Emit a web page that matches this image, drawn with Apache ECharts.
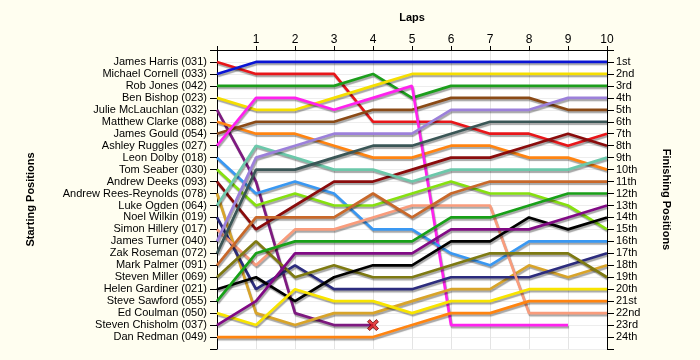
<!DOCTYPE html>
<html><head><meta charset="utf-8">
<script src="https://cdn.jsdelivr.net/npm/echarts@6/dist/echarts.min.js"></script>
<style>html,body{margin:0;padding:0;background:#FFFEF0}#c{width:700px;height:360px}</style>
</head><body><div id="c"></div>
<script>
const laps = [0,1,2,3,4,5,6,7,8,9,10];
const lapLabels = ['', '1','2','3','4','5','6','7','8','9','10'];
const drivers = ['James Harris (031)','Michael Cornell (033)','Rob Jones (042)','Ben Bishop (023)','Julie McLauchlan (032)','Matthew Clarke (088)','James Gould (054)','Ashley Ruggles (027)','Leon Dolby (018)','Tom Seaber (030)','Andrew Deeks (093)','Andrew Rees-Reynolds (078)','Luke Ogden (064)','Noel Wilkin (019)','Simon Hillery (017)','James Turner (040)','Zak Roseman (072)','Mark Palmer (091)','Steven Miller (069)','Helen Gardiner (021)','Steve Sawford (055)','Ed Coulman (050)','Steven Chisholm (037)','Dan Redman (049)'];
const finishLabels = ['1st','2nd','3rd','4th','5th','6th','7th','8th','9th','10th','11th','12th','13th','14th','15th','16th','17th','18th','19th','20th','21st','22nd','23rd','24th'];

// positions per lap (lap 0 .. 10); null = retired
const posJamesHarris     = [1,2,2,2,6,6,6,7,7,8,7];
const posMichaelCornell  = [2,1,1,1,1,1,1,1,1,1,1];
const posRobJones        = [3,3,3,3,2,4,3,3,3,3,3];
const posBenBishop       = [4,5,5,4,3,2,2,2,2,2,2];
const posJulieMcLauchlan = [5,11,22,23,23,null,null,null,null,null,null];
const posMatthewClarke   = [6,7,7,8,9,9,8,8,9,9,10];
const posJamesGould      = [7,6,6,6,5,5,4,4,4,5,5];
const posAshleyRuggles   = [8,4,4,5,4,3,23,23,23,23,null];
const posLeonDolby       = [9,12,11,12,15,15,17,18,16,16,16];
const posTomSeaber       = [10,13,12,13,13,12,11,12,12,13,15];
const posAndrewDeeks     = [11,15,13,11,11,10,9,9,8,7,8];
const posAndrewRR        = [12,22,23,22,22,21,20,20,18,19,18];
const posLukeOgden       = [13,8,9,10,10,11,10,10,10,10,9];
const posNoelWilkin      = [14,20,18,20,20,20,19,19,19,18,17];
const posSimonHillery    = [15,18,15,15,14,13,13,13,22,22,22];
const posJamesTurner     = [16,9,8,7,7,7,5,5,5,4,4];
const posZakRoseman      = [17,10,10,9,8,8,7,6,6,6,6];
const posMarkPalmer      = [18,14,14,14,12,14,12,11,11,11,11];
const posStevenMiller    = [19,16,19,18,19,19,18,17,17,17,19];
const posHelenGardiner   = [20,19,21,19,18,18,16,16,14,15,14];
const posSteveSawford    = [21,17,16,16,16,16,14,14,13,12,12];
const posEdCoulman       = [22,23,20,21,21,22,21,21,20,20,20];
const posStevenChisholm  = [23,21,17,17,17,17,15,15,15,14,13];
const posDanRedman       = [24,24,24,24,24,23,22,22,21,21,21];
const retiredWithMark    = [4]; // driver index (Julie) retired with cross marker

const allPos = [posJamesHarris,posMichaelCornell,posRobJones,posBenBishop,posJulieMcLauchlan,posMatthewClarke,posJamesGould,posAshleyRuggles,posLeonDolby,posTomSeaber,posAndrewDeeks,posAndrewRR,posLukeOgden,posNoelWilkin,posSimonHillery,posJamesTurner,posZakRoseman,posMarkPalmer,posStevenMiller,posHelenGardiner,posSteveSawford,posEdCoulman,posStevenChisholm,posDanRedman];
const colors = ['#E8161A','#0A14D4','#1C9E1C','#F5DE00','#7E1A80','#FF8412','#8A4A16','#FF22EE','#3A98F2','#86E010','#8A0C0C','#D8A42A','#6CC8AA','#2C2C7E','#F99C7C','#9C80DA','#3A5656','#C8682A','#7E7A12','#000000','#18A018','#F8E400','#800A84','#FF8410'];

const font = 'Liberation Sans, Arial, sans-serif';
const series = allPos.map((p, i) => ({
  type: 'line',
  name: drivers[i],
  data: laps.map((l, k) => p[k] == null ? null : [l, p[k]]).filter(d => d),
  symbol: 'none',
  animation: false,
  z: 3,
  lineStyle: { color: colors[i], width: 2.7, shadowColor: 'rgba(0,0,0,0.35)', shadowBlur: 1, shadowOffsetX: 1, shadowOffsetY: 2 },
  emphasis: { disabled: true }
}));
retiredWithMark.forEach(i => {
  const p = allPos[i];
  let last = 0; p.forEach((v, k) => { if (v != null) last = k; });
  series.push({
    type: 'scatter', animation: false, z: 5,
    data: [[laps[last], p[last]]],
    symbol: 'path://M2,0 L5,3 L8,0 L10,2 L7,5 L10,8 L8,10 L5,7 L2,10 L0,8 L3,5 L0,2 Z',
    symbolSize: 11,
    itemStyle: { color: '#E01818', borderColor: '#6A0000', borderWidth: 1 }
  });
});

const chart = echarts.init(document.getElementById('c'), null, { renderer: 'canvas' });
chart.setOption({
  backgroundColor: '#FFFEF0',
  textStyle: { fontFamily: font },
  grid: { left: 217, right: 93, top: 50, bottom: 11, show: true, backgroundColor: '#FFFFFF', borderWidth: 0 },
  xAxis: {
    type: 'value', position: 'top', min: 0, max: 10, interval: 1,
    name: 'Laps', nameLocation: 'middle', nameGap: 27,
    nameTextStyle: { fontWeight: 'bold', fontSize: 11, color: '#000', fontFamily: font },
    axisLine: { show: true, lineStyle: { color: '#000', width: 1 } },
    axisTick: { show: true, length: 4, lineStyle: { color: '#000' } },
    axisLabel: { margin: 4, fontSize: 12, color: '#000', fontFamily: font, formatter: v => lapLabels[v] || '' },
    splitLine: { show: true, lineStyle: { color: '#E4E4E4', width: 1 } }
  },
  yAxis: [{
    type: 'value', position: 'left', min: 0, max: 25, interval: 1, inverse: true,
    name: 'Starting Positions', nameLocation: 'middle', nameGap: 181, nameRotate: 90,
    nameTextStyle: { fontWeight: 'bold', fontSize: 11, color: '#000', fontFamily: font },
    axisLine: { show: true, onZero: false, lineStyle: { color: '#000', width: 1 } },
    axisTick: { show: true, length: 7, lineStyle: { color: '#000' } },
    axisLabel: { margin: 10, fontSize: 11, color: '#000', fontFamily: font, formatter: v => drivers[v - 1] || '' },
    splitLine: { show: true, lineStyle: { color: '#EDEDED', width: 1 } }
  }, {
    type: 'value', position: 'right', min: 0, max: 25, interval: 1, inverse: true,
    name: 'Finishing Positions', nameLocation: 'middle', nameGap: 54, nameRotate: -90,
    nameTextStyle: { fontWeight: 'bold', fontSize: 11, color: '#000', fontFamily: font },
    axisLine: { show: true, onZero: false, lineStyle: { color: '#000', width: 1 } },
    axisTick: { show: true, length: 7, lineStyle: { color: '#000' } },
    axisLabel: { margin: 9, fontSize: 11, color: '#000', fontFamily: font, formatter: v => finishLabels[v - 1] || '' },
    splitLine: { show: false }
  }],
  series: series
});
</script></body></html>
